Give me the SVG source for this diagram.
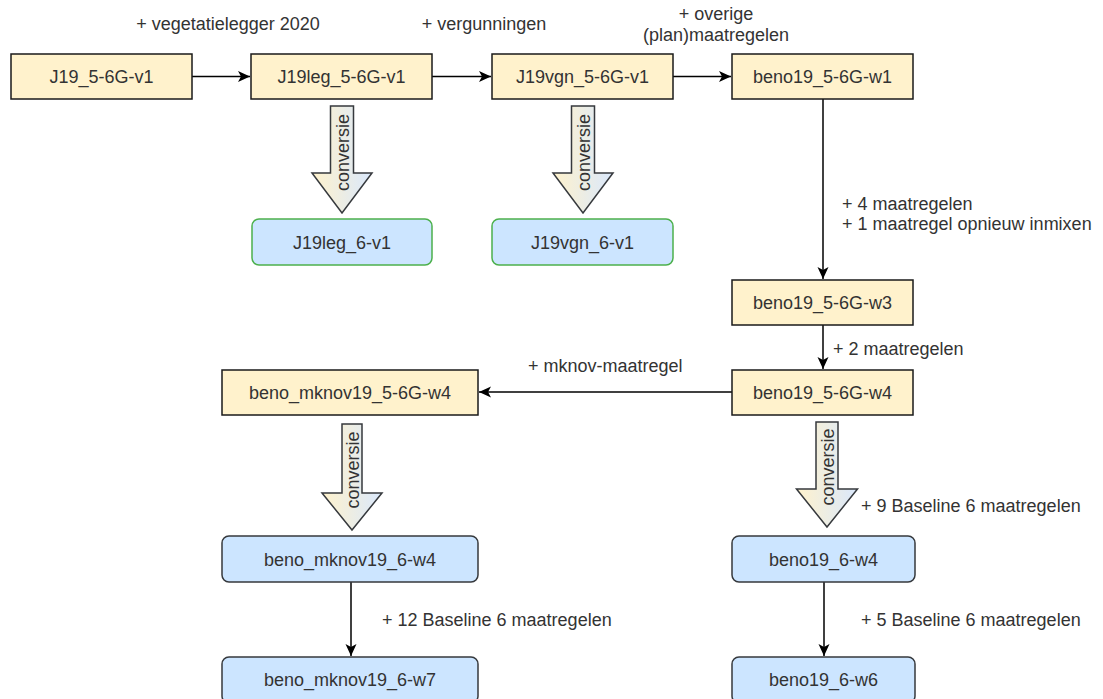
<svg xmlns="http://www.w3.org/2000/svg" width="1103" height="699" viewBox="0 0 1103 699">
<defs>
<linearGradient id="convGrad" x1="0" y1="0" x2="1" y2="0">
<stop offset="0" stop-color="#fff2cc"/>
<stop offset="1" stop-color="#dae8fc"/>
</linearGradient>
<marker id="arrow" markerUnits="userSpaceOnUse" markerWidth="13" markerHeight="12" refX="12" refY="5.5" orient="auto">
<path d="M0,0 L12,5.5 L0,11 L3,5.5 Z" fill="#000"/>
</marker>
</defs>
<style>
text { font-family: "Liberation Sans", Arial, sans-serif; font-size: 18px; fill: #333333; }
.label { text-anchor: middle; }
.lbl { text-anchor: start; }
.yellow { fill: #fff2cc; stroke: #1a1a1a; stroke-width: 1.5; }
.blue { fill: #cce5ff; stroke: #36393d; stroke-width: 1.5; }
.green { fill: #cce5ff; stroke: #4cb04c; stroke-width: 1.5; }
.edge { fill: none; stroke: #000; stroke-width: 1.5; marker-end: url(#arrow); }
.conv { fill: url(#convGrad); stroke: #36393d; stroke-width: 1.5; }
</style>
<rect width="1103" height="699" fill="#ffffff"/>

<g id="connectors">
<path class="edge" d="M192,76.5 H250"/>
<path class="edge" d="M432,76.5 H491"/>
<path class="edge" d="M673,76.5 H731"/>
<path class="edge" d="M823,99 V279"/>
<path class="edge" d="M823,325 V369"/>
<path class="edge" d="M732,392 H479"/>
<path class="edge" d="M351,582 V656"/>
<path class="edge" d="M824,582 V656"/>
<text class="label" x="228" y="30">+ vegetatielegger 2020</text>
<text class="label" x="484" y="30">+ vergunningen</text>
<text class="label" x="716" y="20">+ overige</text>
<text class="label" x="716" y="41">(plan)maatregelen</text>
<text class="lbl" x="842" y="209.5">+ 4 maatregelen</text>
<text class="lbl" x="842" y="229.5">+ 1 maatregel opnieuw inmixen</text>
<text class="lbl" x="833" y="354.5">+ 2 maatregelen</text>
<text class="lbl" x="528" y="371.5">+ mknov-maatregel</text>
<text class="lbl" x="861" y="511.5">+ 9 Baseline 6 maatregelen</text>
<text class="lbl" x="861" y="625.5">+ 5 Baseline 6 maatregelen</text>
<text class="lbl" x="382" y="625.5">+ 12 Baseline 6 maatregelen</text>
</g>

<g id="conv1">
<path class="conv" d="M330.5,106 H353.5 V173 H372 L342,213 L312,173 H330.5 Z"/>
<text class="label" transform="translate(342,152.5) rotate(-90)" y="6.5">conversie</text>
</g>
<g id="conv2">
<path class="conv" d="M571.5,106 H594.5 V173 H613 L583,213 L553,173 H571.5 Z"/>
<text class="label" transform="translate(583,152.5) rotate(-90)" y="6.5">conversie</text>
</g>
<g id="conv3">
<path class="conv" d="M342,424 H362 V493 H382 L352,530 L322,493 H342 Z"/>
<text class="label" transform="translate(352,470) rotate(-90)" y="6.5">conversie</text>
</g>
<g id="conv4">
<path class="conv" d="M816,422 H838 V489 H857.5 L827,527 L796.5,489 H816 Z"/>
<text class="label" transform="translate(827,467) rotate(-90)" y="6.5">conversie</text>
</g>

<g id="J19_5-6G-v1">
<rect class="yellow" x="11" y="54" width="181" height="45"/>
<text class="label" x="101.5" y="83">J19_5-6G-v1</text>
</g>
<g id="J19leg_5-6G-v1">
<rect class="yellow" x="251" y="54" width="181" height="45"/>
<text class="label" x="341.5" y="83">J19leg_5-6G-v1</text>
</g>
<g id="J19vgn_5-6G-v1">
<rect class="yellow" x="492" y="54" width="181" height="45"/>
<text class="label" x="582.5" y="83">J19vgn_5-6G-v1</text>
</g>
<g id="beno19_5-6G-w1">
<rect class="yellow" x="732" y="54" width="181" height="45"/>
<text class="label" x="822.5" y="83">beno19_5-6G-w1</text>
</g>
<g id="J19leg_6-v1">
<rect class="green" x="252" y="219" width="180" height="46" rx="7"/>
<text class="label" x="342" y="248.5">J19leg_6-v1</text>
</g>
<g id="J19vgn_6-v1">
<rect class="green" x="492" y="219" width="181" height="46" rx="7"/>
<text class="label" x="582.5" y="248.5">J19vgn_6-v1</text>
</g>
<g id="beno19_5-6G-w3">
<rect class="yellow" x="732" y="280" width="181" height="45"/>
<text class="label" x="822.5" y="309">beno19_5-6G-w3</text>
</g>
<g id="beno19_5-6G-w4">
<rect class="yellow" x="732" y="370" width="181" height="45"/>
<text class="label" x="822.5" y="399">beno19_5-6G-w4</text>
</g>
<g id="beno_mknov19_5-6G-w4">
<rect class="yellow" x="222" y="370" width="256" height="45"/>
<text class="label" x="350" y="399">beno_mknov19_5-6G-w4</text>
</g>
<g id="beno_mknov19_6-w4">
<rect class="blue" x="222" y="536" width="256" height="46" rx="7"/>
<text class="label" x="350" y="565.5">beno_mknov19_6-w4</text>
</g>
<g id="beno19_6-w4">
<rect class="blue" x="732" y="536" width="183" height="46" rx="7"/>
<text class="label" x="823.5" y="565.5">beno19_6-w4</text>
</g>
<g id="beno_mknov19_6-w7">
<rect class="blue" x="222" y="657" width="256" height="46" rx="7"/>
<text class="label" x="350" y="686">beno_mknov19_6-w7</text>
</g>
<g id="beno19_6-w6">
<rect class="blue" x="732" y="657" width="183" height="46" rx="7"/>
<text class="label" x="823.5" y="686">beno19_6-w6</text>
</g>
</svg>
